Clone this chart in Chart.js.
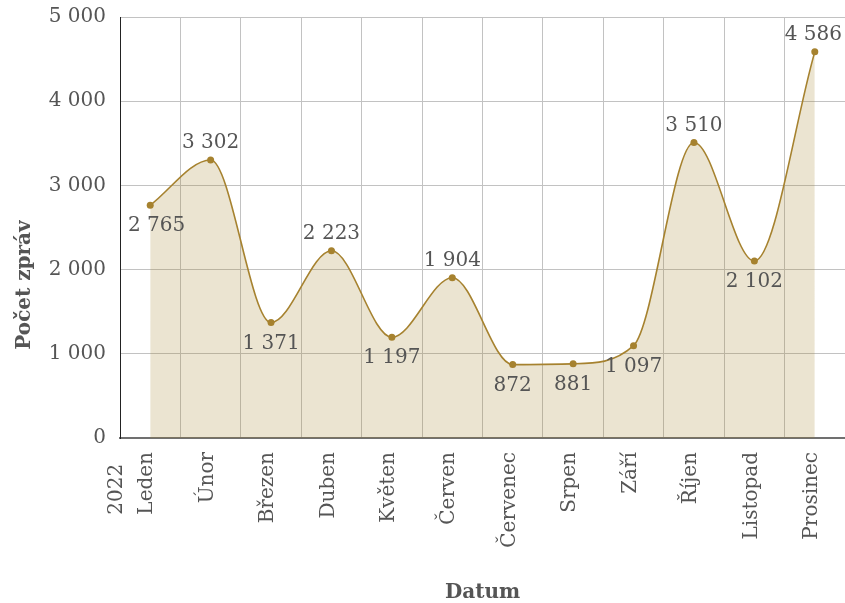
<!DOCTYPE html>
<html lang="cs">
<head>
<meta charset="utf-8">
<script src="https://cdn.jsdelivr.net/npm/chart.js@4"></script>
<style>
  html, body { margin: 0; padding: 0; background: #fff; overflow: hidden; }
  #obal { width: 849px; height: 603px; }
</style>
</head>
<body>
<div id="obal"><canvas id="graf"></canvas></div>
<script>
const mesice = ["Leden", "Únor", "Březen", "Duben", "Květen", "Červen", "Červenec", "Srpen", "Září", "Říjen", "Listopad", "Prosinec"];
const pocty = [2765, 3302, 1371, 2223, 1197, 1904, 872, 881, 1097, 3510, 2102, 4586];
const rok = "2022";
const osaYMin = 0;
const osaYMax = 5000;
const osaYKrok = 1000;

const pismo = "'DejaVu Serif', 'Liberation Serif', serif";
const barvaCary = '#a6822f';
const barvaTextu = '#555555';
const viditelnaSirka = 845;

const formatuj = (n) => String(n).replace(/\B(?=(\d{3})+(?!\d))/g, '\u00a0');

// popisek nad bodem, pokud je to lokální maximum
const jeNahore = (i) => {
    const v = pocty[i];
    const pred = i > 0 ? pocty[i - 1] : -Infinity;
    const po = i < pocty.length - 1 ? pocty[i + 1] : -Infinity;
    return v >= pred && v >= po;
};

const popisky = {
    id: 'popisky',
    afterDatasetsDraw(chart) {
        const ctx = chart.ctx;
        const body = chart.getDatasetMeta(0).data;
        ctx.save();
        ctx.font = `20px ${pismo}`;
        ctx.fillStyle = barvaTextu;
        ctx.textAlign = 'center';
        ctx.textBaseline = 'middle';
        body.forEach((bod, i) => {
            const text = formatuj(pocty[i]);
            const w = ctx.measureText(text).width;
            let x = bod.x;
            x = Math.min(x, viditelnaSirka - 3 - w / 2);
            x = Math.max(x, chart.chartArea.left + 8 + w / 2);
            const y = jeNahore(i) ? bod.y - 17 : bod.y + 21;
            ctx.fillText(text, x, y);
        });
        ctx.restore();
    },
    afterDraw(chart) {
        const ctx = chart.ctx;
        const osaX = chart.scales.x;

        // rok vlevo od prvního měsíce
        ctx.save();
        ctx.font = `20px ${pismo}`;
        ctx.fillStyle = barvaTextu;
        const sirka = ctx.measureText(mesice[0]).width;
        const x0 = osaX.getPixelForTick(0) + osaX.options.ticks.labelOffset - 30;
        const y0 = osaX.top + osaX.options.ticks.padding + sirka;
        ctx.translate(x0, y0);
        ctx.rotate(-Math.PI / 2);
        ctx.textAlign = 'left';
        ctx.textBaseline = 'middle';
        ctx.fillText(rok, 0, 0);
        ctx.restore();

        // název osy y
        ctx.save();
        ctx.font = `bold 20px ${pismo}`;
        ctx.fillStyle = barvaTextu;
        ctx.translate(25, 285);
        ctx.rotate(-Math.PI / 2);
        ctx.textAlign = 'center';
        ctx.textBaseline = 'middle';
        ctx.fillText('Počet zpráv', 0, 0);
        ctx.restore();
    }
};

new Chart(document.getElementById('graf'), {
    type: 'line',
    data: {
        labels: mesice,
        datasets: [{
            data: pocty,
            borderColor: barvaCary,
            borderWidth: 1.6,
            backgroundColor: 'rgba(166, 130, 47, 0.22)',
            fill: 'origin',
            cubicInterpolationMode: 'monotone',
            pointRadius: 3.5,
            pointBackgroundColor: barvaCary,
            pointBorderWidth: 0
        }]
    },
    options: {
        responsive: true,
        maintainAspectRatio: false,
        animation: false,
        layout: { padding: { top: 17, left: 0, right: 0, bottom: 0 } },
        plugins: {
            legend: { display: false },
            tooltip: { enabled: false }
        },
        scales: {
            x: {
                offset: true,
                grid: { color: '#c2c2c2', drawTicks: false, offset: true },
                border: { color: '#707070', width: 2 },
                ticks: {
                    autoSkip: false,
                    minRotation: 90,
                    maxRotation: 90,
                    padding: 14,
                    labelOffset: -3,
                    color: barvaTextu,
                    font: { family: pismo, size: 20 }
                },
                title: {
                    display: true,
                    text: 'Datum',
                    color: barvaTextu,
                    font: { family: pismo, size: 20, weight: 'bold' },
                    padding: { top: 0, bottom: -2 }
                },
                afterFit: (s) => {
                    s.height = 165;
                    s.paddingLeft = 0;
                    s.paddingRight = 0;
                }
            },
            y: {
                min: osaYMin,
                max: osaYMax,
                grid: { color: '#c2c2c2', drawTicks: false },
                border: { color: '#222222', width: 1 },
                ticks: {
                    stepSize: osaYKrok,
                    padding: 14,
                    color: barvaTextu,
                    font: { family: pismo, size: 20 },
                    callback: (v) => formatuj(v)
                },
                afterFit: (s) => {
                    s.width = 120;
                    s.paddingTop = 0;
                    s.paddingBottom = 0;
                }
            }
        }
    },
    plugins: [popisky]
});
</script>
</body>
</html>
